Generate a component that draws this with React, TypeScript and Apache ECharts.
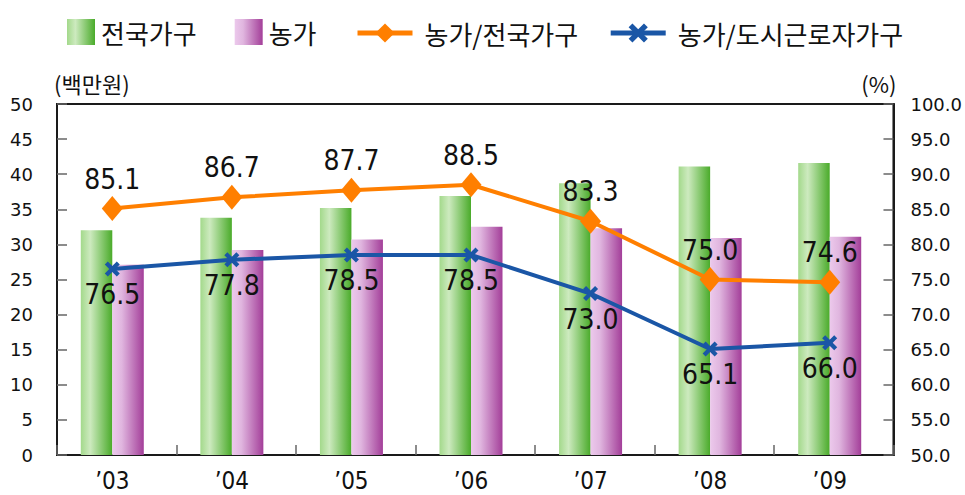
import React, { useEffect, useRef } from "react";
import * as echarts from "echarts";

const categories = ["’03", "’04", "’05", "’06", "’07", "’08", "’09"];
const nationalIncome = [32.0, 33.8, 35.2, 36.9, 38.7, 41.1, 41.6];
const farmIncome = [27.1, 29.2, 30.7, 32.5, 32.3, 30.9, 31.1];
const farmToNational = [85.1, 86.7, 87.7, 88.5, 83.3, 75.0, 74.6];
const farmToUrban = [76.5, 77.8, 78.5, 78.5, 73.0, 65.1, 66.0];
const leftTicks = { min: 0, max: 50, interval: 5 };
const rightTicks = { min: 50, max: 100, interval: 5 };

const condensed = "'DejaVu Sans Condensed', 'DejaVu Sans', sans-serif";
const plain = "'DejaVu Sans', sans-serif";
const kr = "'Noto Sans CJK KR', 'Noto Sans', sans-serif";

const ORANGE = "#ff7f00";
const BLUE = "#1a56a6";
const X_SYMBOL =
  "path://M0,2L2,0L5,3L8,0L10,2L7,5L10,8L8,10L5,7L2,10L0,8L3,5Z";

export default function App() {
  const ref = useRef<HTMLDivElement>(null);

  useEffect(() => {
    if (!ref.current) return;
    const chart = echarts.init(ref.current, undefined, { renderer: "svg" });

    const green = new echarts.graphic.LinearGradient(0, 0, 1, 0, [
      { offset: 0, color: "#a3d98b" },
      { offset: 0.3, color: "#cdeabf" },
      { offset: 1, color: "#4aab2a" },
    ]);
    const purple = new echarts.graphic.LinearGradient(0, 0, 1, 0, [
      { offset: 0, color: "#ecc9ec" },
      { offset: 0.3, color: "#e0b6df" },
      { offset: 1, color: "#a33e99" },
    ]);

    const axisLine = { show: true, lineStyle: { color: "#1a1a1a", width: 2 } };
    const tick = {
      show: true,
      inside: true,
      length: 10,
      lineStyle: { color: "#666", width: 1.5 },
    };

    chart.setOption({
      animation: false,
      backgroundColor: "#fff",
      legend: [
        {
          data: ["전국가구", "농가"],
          left: 62,
          top: 14,
          icon: "rect",
          itemWidth: 28,
          itemHeight: 26,
          itemGap: 38,
          textStyle: {
            fontSize: 26,
            fontFamily: kr,
            color: "#111",
            padding: [0, 0, 0, 1],
          },
        },
        {
          data: ["농가/전국가구", "농가/도시근로자가구"],
          left: 350,
          top: 15,
          itemWidth: 55,
          itemHeight: 24,
          itemGap: 30,
          lineStyle: { width: 5 },
          textStyle: {
            fontSize: 26,
            fontFamily: kr,
            color: "#111",
            padding: [0, 0, 0, 7],
          },
        },
      ],
      grid: [
        {
          left: 57,
          right: 71,
          top: 104,
          bottom: 40,
          show: true,
          borderColor: "#1a1a1a",
          borderWidth: 2,
        },
        { left: 52.5, right: 75.5, top: 104, bottom: 40 },
      ],
      xAxis: [
        {
          gridIndex: 0,
          type: "category",
          data: categories,
          axisLine,
          axisTick: tick,
          axisLabel: { show: false },
          splitLine: { show: false },
        },
        {
          gridIndex: 1,
          type: "category",
          data: categories,
          axisLine: { show: false },
          axisTick: { show: false },
          axisLabel: {
            fontSize: 24,
            fontFamily: condensed,
            color: "#111",
            margin: 14,
          },
        },
      ],
      yAxis: [
        {
          gridIndex: 0,
          type: "value",
          position: "left",
          ...leftTicks,
          axisLine,
          axisTick: tick,
          splitLine: { show: false },
          axisLabel: {
            fontSize: 18,
            fontFamily: plain,
            color: "#111",
            margin: 24,
          },
          name: "(백만원)",
          nameLocation: "end",
          nameGap: 10,
          nameTextStyle: {
            fontSize: 22,
            fontFamily: kr,
            color: "#111",
            align: "left",
            verticalAlign: "bottom",
            padding: [0, 0, 0, -3],
          },
        },
        {
          gridIndex: 0,
          type: "value",
          position: "right",
          ...rightTicks,
          axisLine,
          axisTick: tick,
          splitLine: { show: false },
          axisLabel: {
            fontSize: 18,
            fontFamily: plain,
            color: "#111",
            margin: 17,
            formatter: (v: number) => v.toFixed(1),
          },
          name: "(%)",
          nameLocation: "end",
          nameGap: 10,
          nameTextStyle: {
            fontSize: 22,
            fontFamily: kr,
            color: "#111",
            align: "right",
            verticalAlign: "bottom",
            padding: [0, -3, 0, 0],
          },
        },
        { gridIndex: 1, type: "value", ...leftTicks, show: false },
        {
          gridIndex: 1,
          type: "value",
          position: "right",
          ...rightTicks,
          show: false,
        },
      ],
      series: [
        {
          name: "전국가구",
          type: "bar",
          xAxisIndex: 1,
          yAxisIndex: 2,
          barWidth: 31.5,
          barGap: "0%",
          data: nationalIncome,
          itemStyle: { color: green },
        },
        {
          name: "농가",
          type: "bar",
          xAxisIndex: 1,
          yAxisIndex: 2,
          barWidth: 31.5,
          barGap: "0%",
          data: farmIncome,
          itemStyle: { color: purple },
        },
        {
          name: "농가/전국가구",
          type: "line",
          xAxisIndex: 1,
          yAxisIndex: 3,
          data: farmToNational,
          symbol: "diamond",
          symbolSize: [21, 25],
          lineStyle: { color: ORANGE, width: 4 },
          itemStyle: { color: ORANGE },
          z: 5,
          label: {
            show: true,
            position: "top",
            distance: 3,
            fontSize: 28,
            fontFamily: condensed,
            color: "#111",
            formatter: (p: any) => p.value.toFixed(1),
          },
        },
        {
          name: "농가/도시근로자가구",
          type: "line",
          xAxisIndex: 1,
          yAxisIndex: 3,
          data: farmToUrban,
          symbol: X_SYMBOL,
          symbolSize: 15,
          lineStyle: { color: BLUE, width: 4 },
          itemStyle: { color: BLUE },
          z: 5,
          label: {
            show: true,
            position: "bottom",
            distance: 4,
            fontSize: 28,
            fontFamily: condensed,
            color: "#111",
            formatter: (p: any) => p.value.toFixed(1),
          },
        },
      ],
    });

    return () => chart.dispose();
  }, []);

  return (
    <div
      ref={ref}
      style={{
        position: "fixed",
        left: 0,
        top: 0,
        width: 965,
        height: 495,
        background: "#fff",
      }}
    />
  );
}
